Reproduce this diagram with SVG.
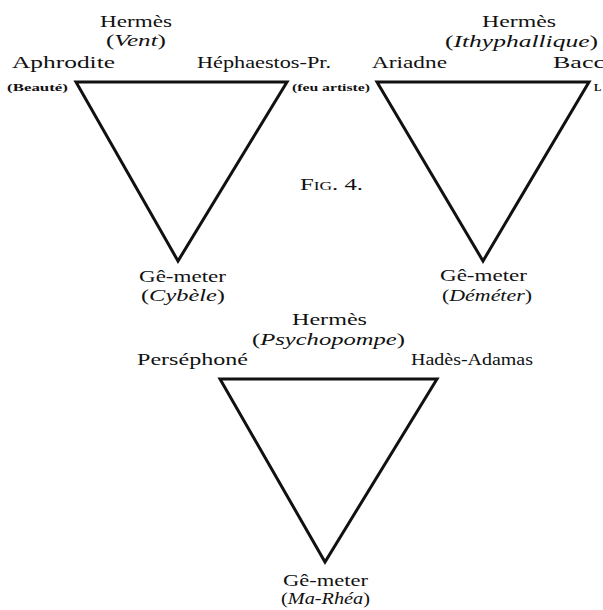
<svg xmlns="http://www.w3.org/2000/svg" width="603" height="610" viewBox="0 0 603 610">
<style>
.lbl{font-family:"Liberation Serif","DejaVu Serif",serif;font-size:17px;fill:#111}
.it{font-style:italic}
.sm{font-family:"Liberation Serif","DejaVu Serif",serif;font-size:11px;font-weight:bold;fill:#111}
.tri{fill:none;stroke:#111;stroke-width:3;stroke-linejoin:miter}
.cap{font-family:"Liberation Serif","DejaVu Serif",serif;font-size:17px;fill:#111;font-variant:small-caps}
</style>
<rect width="603" height="610" fill="#fff"/>
<g id="connectors">
<polygon class="tri" points="76,82 287,82 178,261"/>
<polygon class="tri" points="377,82 589,82 483,261"/>
<polygon class="tri" points="220,379 437,379 325,562"/>
</g>
<g id="t1-hermes"><text class="lbl" x="100" y="27" textLength="72" lengthAdjust="spacingAndGlyphs">Hermès</text><text class="lbl" x="106" y="46" textLength="60" lengthAdjust="spacingAndGlyphs">(<tspan class="it">Vent</tspan>)</text></g>
<g id="t1-aphrodite"><text class="lbl" x="12" y="68" textLength="103" lengthAdjust="spacingAndGlyphs">Aphrodite</text><text class="sm" x="7" y="91" textLength="61" lengthAdjust="spacingAndGlyphs">(Beauté)</text></g>
<g id="t1-hephaestos"><text class="lbl" x="197" y="68" textLength="134" lengthAdjust="spacingAndGlyphs">Héphaestos-Pr.</text><text class="sm" x="292" y="91" textLength="78" lengthAdjust="spacingAndGlyphs">(feu artiste)</text></g>
<g id="t1-gemeter"><text class="lbl" x="139" y="282" textLength="87" lengthAdjust="spacingAndGlyphs">Gê-meter</text><text class="lbl" x="141" y="301" textLength="84" lengthAdjust="spacingAndGlyphs">(<tspan class="it">Cybèle</tspan>)</text></g>
<g id="t2-hermes"><text class="lbl" x="482" y="27" textLength="74" lengthAdjust="spacingAndGlyphs">Hermès</text><text class="lbl" x="445" y="47" textLength="153" lengthAdjust="spacingAndGlyphs">(<tspan class="it">Ithyphallique</tspan>)</text></g>
<g id="t2-ariadne"><text class="lbl" x="372" y="68" textLength="75" lengthAdjust="spacingAndGlyphs">Ariadne</text></g>
<g id="t2-bacchus"><text class="lbl" x="553" y="68" textLength="52" lengthAdjust="spacingAndGlyphs">Bacc</text><text class="sm" x="594" y="91">L</text></g>
<g id="t2-gemeter"><text class="lbl" x="440" y="281" textLength="87" lengthAdjust="spacingAndGlyphs">Gê-meter</text><text class="lbl" x="442" y="301" textLength="90" lengthAdjust="spacingAndGlyphs">(<tspan class="it">Déméter</tspan>)</text></g>
<g id="fig"><text class="cap" x="300" y="190" textLength="63" lengthAdjust="spacingAndGlyphs">Fig. 4.</text></g>
<g id="t3-hermes"><text class="lbl" x="292" y="325" textLength="75" lengthAdjust="spacingAndGlyphs">Hermès</text><text class="lbl" x="252" y="345" textLength="153" lengthAdjust="spacingAndGlyphs">(<tspan class="it">Psychopompe</tspan>)</text></g>
<g id="t3-persephone"><text class="lbl" x="137" y="365" textLength="111" lengthAdjust="spacingAndGlyphs">Perséphoné</text></g>
<g id="t3-hades"><text class="lbl" x="411" y="365" textLength="122" lengthAdjust="spacingAndGlyphs">Hadès-Adamas</text></g>
<g id="t3-gemeter"><text class="lbl" x="283" y="586" textLength="85" lengthAdjust="spacingAndGlyphs">Gê-meter</text><text class="lbl" x="281" y="604" textLength="89" lengthAdjust="spacingAndGlyphs">(<tspan class="it">Ma-Rhéa</tspan>)</text></g>
</svg>
